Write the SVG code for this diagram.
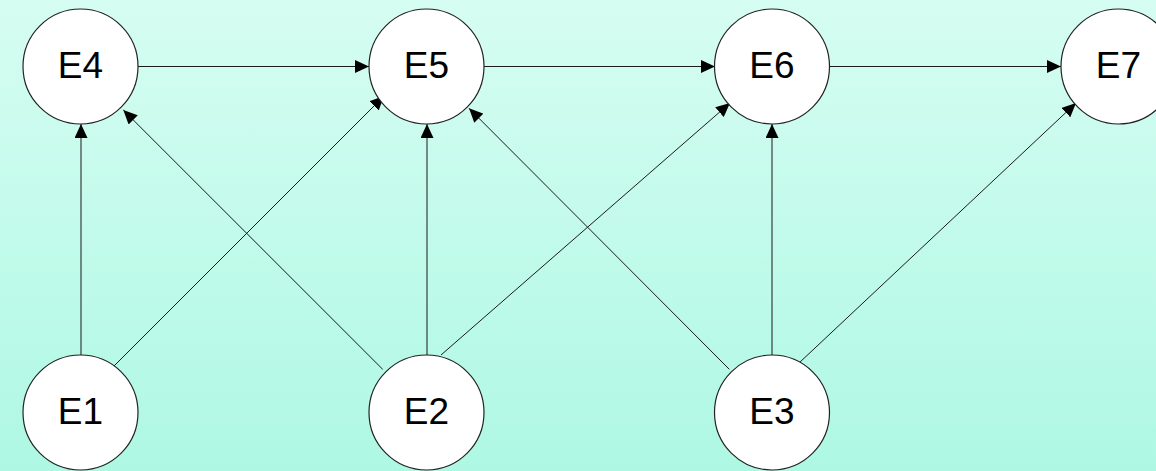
<svg xmlns="http://www.w3.org/2000/svg" width="1156" height="471" viewBox="0 0 1156 471">
  <defs>
    <linearGradient id="bg" x1="0" y1="0" x2="0" y2="1">
      <stop offset="0" stop-color="#d6fdf2"/>
      <stop offset="1" stop-color="#aef8e3"/>
    </linearGradient>
    <marker id="arrow" viewBox="0 0 14 13" refX="14" refY="6.5" markerWidth="14" markerHeight="13" markerUnits="userSpaceOnUse" orient="auto">
      <path d="M0,0 L14,6.5 L0,13 Z" fill="#000"/>
    </marker>
  </defs>
  <style>
    .edge { stroke: #1a1a1a; stroke-width: 1; fill: none; marker-end: url(#arrow); }
    .node circle { fill: #fff; stroke: #222; stroke-width: 1.2; }
    .node text { font-family: "Liberation Sans", Arial, sans-serif; font-size: 37px; fill: #000; text-anchor: middle; }
  </style>

  <rect x="0" y="0" width="1156" height="471" fill="url(#bg)"/>

  <g id="connectors">
    <line class="edge" x1="138" y1="66.5" x2="369" y2="66.5"/>
    <line class="edge" x1="484" y1="66.5" x2="715" y2="66.5"/>
    <line class="edge" x1="829.5" y1="66.5" x2="1061" y2="66.5"/>
    <line class="edge" x1="81" y1="360" x2="81" y2="124"/>
    <line class="edge" x1="111" y1="369" x2="384" y2="96"/>
    <line class="edge" x1="382.7" y1="369.3" x2="123.3" y2="110"/>
    <line class="edge" x1="427" y1="360" x2="427" y2="124"/>
    <line class="edge" x1="441" y1="355" x2="730" y2="103"/>
    <line class="edge" x1="729.3" y1="369.3" x2="469" y2="108.3"/>
    <line class="edge" x1="772" y1="360" x2="772" y2="124"/>
    <line class="edge" x1="799" y1="363" x2="1076" y2="103"/>
  </g>

  <g id="E4" class="node">
    <circle cx="80.5" cy="66.5" r="57.5"/>
    <text x="80.5" y="78">E4</text>
  </g>
  <g id="E5" class="node">
    <circle cx="426.5" cy="66.5" r="57.5"/>
    <text x="426.5" y="78">E5</text>
  </g>
  <g id="E6" class="node">
    <circle cx="772" cy="66.5" r="57.5"/>
    <text x="772" y="78">E6</text>
  </g>
  <g id="E7" class="node">
    <circle cx="1118.5" cy="66.5" r="57.5"/>
    <text x="1118.5" y="78">E7</text>
  </g>
  <g id="E1" class="node">
    <circle cx="80.5" cy="412.5" r="57.5"/>
    <text x="80.5" y="424">E1</text>
  </g>
  <g id="E2" class="node">
    <circle cx="426.5" cy="412.5" r="57.5"/>
    <text x="426.5" y="424">E2</text>
  </g>
  <g id="E3" class="node">
    <circle cx="772" cy="412.5" r="57.5"/>
    <text x="772" y="424">E3</text>
  </g>
</svg>
